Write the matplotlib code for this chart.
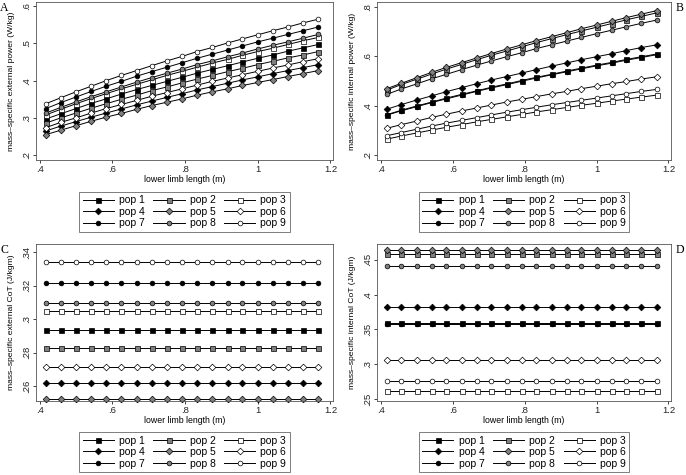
import matplotlib
matplotlib.use('Agg')
import matplotlib.pyplot as plt
from matplotlib.ticker import FuncFormatter

plt.rcParams['font.family'] = ['Liberation Sans', 'DejaVu Sans']

# lower limb length (m)
leg_len = [0.417, 0.458, 0.500, 0.542, 0.583, 0.625, 0.667, 0.708, 0.750, 0.792,
           0.833, 0.875, 0.917, 0.958, 1.000, 1.042, 1.083, 1.125, 1.167]

pops = ['pop 1', 'pop 2', 'pop 3', 'pop 4', 'pop 5', 'pop 6', 'pop 7', 'pop 8', 'pop 9']

# panel A: mass-specific external power (W/kg)
ext_pow_1 = [.297, .311, .325, .339, .351, .364, .376, .387, .398, .409, .420, .430, .440, .450, .460, .469, .479, .488, .497]
ext_pow_2 = [.286, .300, .313, .326, .338, .350, .361, .373, .383, .394, .404, .414, .424, .433, .443, .452, .461, .469, .478]
ext_pow_3 = [.308, .323, .338, .352, .365, .378, .390, .402, .414, .425, .436, .447, .457, .468, .478, .487, .497, .507, .516]
ext_pow_4 = [.265, .278, .290, .302, .313, .324, .335, .345, .355, .365, .375, .384, .393, .402, .410, .419, .427, .435, .443]
ext_pow_5 = [.255, .267, .279, .291, .302, .312, .323, .333, .342, .351, .361, .370, .378, .387, .395, .403, .411, .419, .427]
ext_pow_6 = [.274, .288, .300, .313, .325, .336, .347, .358, .368, .378, .388, .398, .407, .416, .425, .434, .442, .451, .459]
ext_pow_7 = [.325, .341, .356, .371, .385, .398, .412, .424, .436, .448, .460, .471, .482, .493, .504, .514, .524, .534, .544]
ext_pow_8 = [.313, .328, .343, .357, .370, .383, .396, .408, .420, .431, .443, .453, .464, .474, .485, .495, .504, .514, .524]
ext_pow_9 = [.338, .354, .370, .385, .400, .414, .427, .440, .453, .465, .478, .489, .501, .512, .523, .534, .544, .555, .565]

# panel B: mass-specific internal power (W/kg)
int_pow_1 = [.364, .382, .399, .415, .431, .446, .460, .475, .488, .502, .515, .527, .540, .552, .564, .575, .587, .598, .609]
int_pow_2 = [.463, .486, .507, .528, .548, .567, .586, .604, .621, .638, .655, .671, .687, .702, .717, .732, .747, .761, .775]
int_pow_3 = [.265, .278, .290, .302, .313, .324, .335, .345, .355, .365, .375, .384, .393, .402, .410, .419, .427, .435, .443]
int_pow_4 = [.386, .405, .423, .440, .457, .473, .489, .504, .518, .532, .546, .560, .573, .586, .598, .610, .623, .635, .646]
int_pow_5 = [.469, .491, .513, .535, .555, .574, .593, .611, .629, .646, .663, .679, .695, .711, .726, .741, .756, .770, .784]
int_pow_6 = [.309, .324, .338, .353, .366, .379, .391, .403, .415, .426, .437, .448, .458, .469, .479, .489, .498, .508, .517]
int_pow_7 = [.362, .380, .396, .413, .428, .443, .458, .472, .485, .499, .512, .525, .537, .549, .561, .572, .584, .595, .606]
int_pow_8 = [.446, .468, .488, .509, .527, .546, .564, .581, .598, .614, .631, .646, .661, .676, .691, .705, .719, .733, .746]
int_pow_9 = [.279, .292, .305, .318, .330, .341, .352, .363, .374, .384, .394, .404, .413, .422, .431, .440, .449, .458, .466]

# panels C and D: cost of transport, constant over leg length (J/kgm)
ext_cot = [.2936, .2826, .3050, .2620, .2523, .2714, .3217, .3095, .3340]
int_cot = [.3600, .4580, .2620, .3820, .4636, .3057, .3580, .4410, .2755]

ext_pow = [ext_pow_1, ext_pow_2, ext_pow_3, ext_pow_4, ext_pow_5, ext_pow_6, ext_pow_7, ext_pow_8, ext_pow_9]
int_pow = [int_pow_1, int_pow_2, int_pow_3, int_pow_4, int_pow_5, int_pow_6, int_pow_7, int_pow_8, int_pow_9]

gray = '#7f7f7f'
mk = ['s', 's', 's', 'D', 'D', 'D', 'o', 'o', 'o']
mfc = ['black', gray, 'white'] * 3
msz = [3.6, 3.6, 3.6, 3.4, 3.4, 3.4, 3.4, 3.4, 3.4]


def stata_fmt(v, pos):
    s = ('%.2f' % v).rstrip('0').rstrip('.')
    if s.startswith('0.'):
        s = s[1:]
    return s


def panel(ax, series, ylabel, ylim, yticks, letter, letter_x, leg_y):
    for i, ys in enumerate(series):
        ax.plot(leg_len, ys, color='black', lw=0.7, marker=mk[i], ms=msz[i],
                mfc=mfc[i], mec='black', mew=0.5, label=pops[i], clip_on=False)
    ax.set_xlim(0.39, 1.207)
    ax.set_ylim(*ylim)
    ax.set_xticks([0.4, 0.6, 0.8, 1.0, 1.2])
    ax.set_yticks(yticks)
    ax.xaxis.set_major_formatter(FuncFormatter(stata_fmt))
    ax.yaxis.set_major_formatter(FuncFormatter(stata_fmt))
    ax.tick_params(direction='out', length=2.5, width=0.6, labelsize=6.8, pad=1, colors='#222')
    for lab in ax.get_yticklabels():
        lab.set_rotation(90)
        lab.set_va('center')
    for sp in ax.spines.values():
        sp.set_linewidth(0.6)
        sp.set_color('#555')
    ax.set_xlabel('lower limb length (m)', fontsize=6.3, labelpad=0.5)
    ax.set_ylabel(ylabel, fontsize=6.1)
    ax.yaxis.set_label_coords(-0.071, 0.5)
    order = [0, 3, 6, 1, 4, 7, 2, 5, 8]
    h, l = ax.get_legend_handles_labels()
    lg = ax.legend([h[k] for k in order], [l[k] for k in order], ncol=3,
                   loc='upper center', bbox_to_anchor=(0.5, leg_y), fontsize=7.5,
                   frameon=True, fancybox=False, edgecolor='#444', borderaxespad=0,
                   handlelength=3.0, handletextpad=0.5, columnspacing=0.8,
                   labelspacing=0.15, borderpad=0.35, numpoints=1)
    lg.get_frame().set_linewidth(0.6)
    ax.text(letter_x, 1.0, letter, transform=ax.transAxes, fontsize=8.5,
            family='Liberation Serif', va='top', ha='left')


fig = plt.figure(figsize=(6.86, 4.75), dpi=100)
axA = fig.add_axes([36 / 686, 1 - 160 / 475, 297 / 686, 158 / 475])
axB = fig.add_axes([377 / 686, 1 - 160 / 475, 294 / 686, 158 / 475])
axC = fig.add_axes([36 / 686, 1 - 401 / 475, 297 / 686, 157 / 475])
axD = fig.add_axes([377 / 686, 1 - 401 / 475, 294 / 686, 157 / 475])

panel(axA, ext_pow, 'mass\u2013specific external power (W/kg)', (0.187, 0.611),
      [0.2, 0.3, 0.4, 0.5, 0.6], 'A', -0.12, -0.2)
panel(axB, int_pow, 'mass\u2013specific internal power (W/kg)', (0.181, 0.819),
      [0.2, 0.4, 0.6, 0.8], 'B', 1.015, -0.2)
panel(axC, [[c] * len(leg_len) for c in ext_cot], 'mass\u2013specific external CoT (J/kgm)',
      (0.2512, 0.3448), [0.26, 0.28, 0.30, 0.32, 0.34], 'C', -0.12, -0.197)
panel(axD, [[c] * len(leg_len) for c in int_cot], 'mass\u2013specific internal CoT (J/kgm)',
      (0.2475, 0.4725), [0.25, 0.30, 0.35, 0.40, 0.45], 'D', 1.015, -0.197)

fig.savefig('out.png', dpi=100)
